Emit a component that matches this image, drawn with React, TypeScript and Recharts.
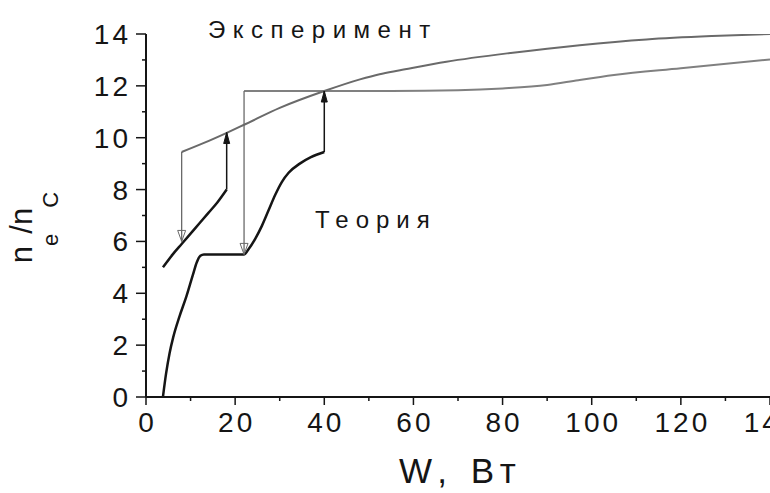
import React from "react";
import { LineChart, Line, XAxis, YAxis } from "recharts";

// ---- data ----
const xTicks = [0, 10, 20, 30, 40, 50, 60, 70, 80, 90, 100, 110, 120, 130, 140];
const yTicks = [0, 1, 2, 3, 4, 5, 6, 7, 8, 9, 10, 11, 12, 13, 14];

// Theory: main branch (from threshold up to the jump at 40 W)
const theoryMain = [
  { x: 3.8, y: 0 }, { x: 4.5, y: 0.9 }, { x: 5.3, y: 1.7 }, { x: 6.1, y: 2.3 },
  { x: 7.5, y: 3.1 }, { x: 9.1, y: 3.9 }, { x: 10.5, y: 4.7 }, { x: 11.4, y: 5.2 },
  { x: 12.2, y: 5.45 }, { x: 13, y: 5.5 }, { x: 17, y: 5.5 }, { x: 22, y: 5.5 },
  { x: 23, y: 5.7 }, { x: 24.5, y: 6.1 }, { x: 26, y: 6.6 }, { x: 27.5, y: 7.2 },
  { x: 29, y: 7.8 }, { x: 30.5, y: 8.3 }, { x: 32, y: 8.65 }, { x: 34.5, y: 9.0 },
  { x: 37, y: 9.25 }, { x: 40, y: 9.45 },
];
// Theory: short upper branch
const theoryShort = [
  { x: 3.8, y: 5.0 }, { x: 6, y: 5.5 }, { x: 8, y: 5.9 }, { x: 10, y: 6.3 },
  { x: 12, y: 6.7 }, { x: 14, y: 7.1 }, { x: 16, y: 7.5 }, { x: 18.1, y: 8.0 },
];
// Experiment: rising branch
const expUpper = [
  { x: 8, y: 9.45 }, { x: 13, y: 9.8 }, { x: 18, y: 10.18 }, { x: 22, y: 10.5 },
  { x: 30, y: 11.15 }, { x: 40, y: 11.8 }, { x: 48, y: 12.25 }, { x: 52.4, y: 12.45 },
  { x: 57, y: 12.6 }, { x: 67.4, y: 12.93 }, { x: 82.3, y: 13.28 }, { x: 97.3, y: 13.57 },
  { x: 112.3, y: 13.79 }, { x: 127, y: 13.92 }, { x: 140, y: 14.0 },
];
// Experiment: plateau branch
const expPlateau = [
  { x: 22, y: 11.8 }, { x: 40, y: 11.8 }, { x: 55, y: 11.8 }, { x: 70, y: 11.83 },
  { x: 80, y: 11.9 }, { x: 90, y: 12.03 }, { x: 97, y: 12.22 }, { x: 105, y: 12.42 },
  { x: 120, y: 12.68 }, { x: 140, y: 13.02 },
];
// Transition arrows (from -> to)
const arrowDown1 = [{ x: 8, y: 9.45 }, { x: 8, y: 6.0 }];
const arrowUp1 = [{ x: 18.1, y: 8.0 }, { x: 18.1, y: 10.2 }];
const arrowDown2 = [{ x: 22, y: 11.8 }, { x: 22, y: 5.5 }];
const arrowUp2 = [{ x: 40, y: 9.45 }, { x: 40, y: 11.8 }];

const FONT = "'Liberation Sans', Arial, Helvetica, sans-serif";
const INK = "#151515";
const GRAY = "#6a6a6a";

const XTick = (props: any) => {
  const { x, y, payload } = props;
  const v = payload.value;
  const major = v % 20 === 0;
  return (
    <g>
      <line x1={x} x2={x} y1={y} y2={y + (major ? 8 : 4)} stroke={INK} strokeWidth={1.5} />
      {major && (
        <text x={x + 1.5} y={y + 35} textAnchor="middle" fontSize={28} letterSpacing={3}
          fontFamily={FONT} fill={INK}>{v}</text>
      )}
    </g>
  );
};

const YTick = (props: any) => {
  const { x, y, payload } = props;
  const v = payload.value;
  const major = v % 2 === 0;
  return (
    <g>
      <line x1={x - (major ? 10 : 4)} x2={x} y1={y} y2={y} stroke={INK} strokeWidth={1.5} />
      {major && (
        <text x={x - 15} y={y + 10} textAnchor="end" fontSize={28} letterSpacing={3}
          fontFamily={FONT} fill={INK}>{v}</text>
      )}
    </g>
  );
};

const makeArrowDot = (from: { y: number }, color: string, filled: boolean) => (props: any) => {
  const { cx, cy, index, payload } = props;
  if (index !== 1 || cx == null || cy == null) return <g key={`d${index}`} />;
  const dir = payload.y < from.y ? 1 : -1; // +1: pointing down on screen
  const h = 11;
  const w = filled ? 3 : 4;
  const d = `M${cx - w},${cy - dir * h} L${cx},${cy} L${cx + w},${cy - dir * h} Z`;
  return (
    <path key={`d${index}`} d={d} fill={filled ? color : "none"} stroke={color} strokeWidth={1} />
  );
};

const XLabel = (props: any) => {
  const vb = props.viewBox || { x: 146, y: 397, width: 624, height: 96 };
  return (
    <text x={vb.x + vb.width / 2 + 3} y={vb.y + 86} textAnchor="middle" fontSize={35}
      letterSpacing={7} fontFamily={FONT} fill={INK}>W, Вт</text>
  );
};

const YLabel = (props: any) => {
  const vb = props.viewBox || { x: 0, y: 34, width: 146, height: 363 };
  const cx = vb.x + 32;
  const cy = vb.y + vb.height / 2 + 12;
  return (
    <text x={cx} y={cy} transform={`rotate(-90, ${cx}, ${cy})`} textAnchor="middle"
      fontSize={31} fontFamily={FONT} fill={INK}>
      n<tspan dy={26} fontSize={22}>e</tspan>
      <tspan dy={-26}>/n</tspan>
      <tspan dy={26} fontSize={22}>C</tspan>
    </text>
  );
};

export default function App() {
  return (
    <div style={{ position: "absolute", left: 0, top: 0, width: 770, height: 493,
      background: "#ffffff", overflow: "hidden" }}>
      <LineChart width={770} height={493} margin={{ top: 34, right: 0, bottom: 0, left: 0 }}>
        <XAxis type="number" dataKey="x" domain={[0, 140]} ticks={xTicks} interval={0}
          height={96} tickSize={0} tickMargin={0} tick={<XTick />}
          axisLine={{ stroke: INK, strokeWidth: 2 }} tickLine={false}
          allowDataOverflow label={<XLabel />} />
        <YAxis type="number" dataKey="y" domain={[0, 14]} ticks={yTicks} interval={0}
          width={146} tickSize={0} tickMargin={0} tick={<YTick />}
          axisLine={{ stroke: INK, strokeWidth: 2 }} tickLine={false}
          allowDataOverflow label={<YLabel />} />

        <Line data={expPlateau} dataKey="y" type="monotone" stroke="#808080" strokeWidth={2}
          dot={false} isAnimationActive={false} />
        <Line data={expUpper} dataKey="y" type="monotone" stroke={GRAY} strokeWidth={2}
          dot={false} isAnimationActive={false} />
        <Line data={theoryMain} dataKey="y" type="monotone" stroke={INK} strokeWidth={2.5}
          dot={false} isAnimationActive={false} />
        <Line data={theoryShort} dataKey="y" type="monotone" stroke={INK} strokeWidth={2.5}
          dot={false} isAnimationActive={false} />

        <Line data={arrowDown1} dataKey="y" type="linear" stroke={GRAY} strokeWidth={1.3}
          dot={makeArrowDot(arrowDown1[0], GRAY, false)} isAnimationActive={false} />
        <Line data={arrowDown2} dataKey="y" type="linear" stroke={GRAY} strokeWidth={1.3}
          dot={makeArrowDot(arrowDown2[0], GRAY, false)} isAnimationActive={false} />
        <Line data={arrowUp1} dataKey="y" type="linear" stroke={INK} strokeWidth={1.5}
          dot={makeArrowDot(arrowUp1[0], INK, true)} isAnimationActive={false} />
        <Line data={arrowUp2} dataKey="y" type="linear" stroke={INK} strokeWidth={1.5}
          dot={makeArrowDot(arrowUp2[0], INK, true)} isAnimationActive={false} />
      </LineChart>
      <svg width={770} height={493} style={{ position: "absolute", left: 0, top: 0, pointerEvents: "none" }}>
        <text x={208} y={38} fontSize={24} letterSpacing={7.5} fontFamily={FONT} fill={INK}>Эксперимент</text>
        <text x={315} y={228} fontSize={24} letterSpacing={7} fontFamily={FONT} fill={INK}>Теория</text>
      </svg>
    </div>
  );
}
